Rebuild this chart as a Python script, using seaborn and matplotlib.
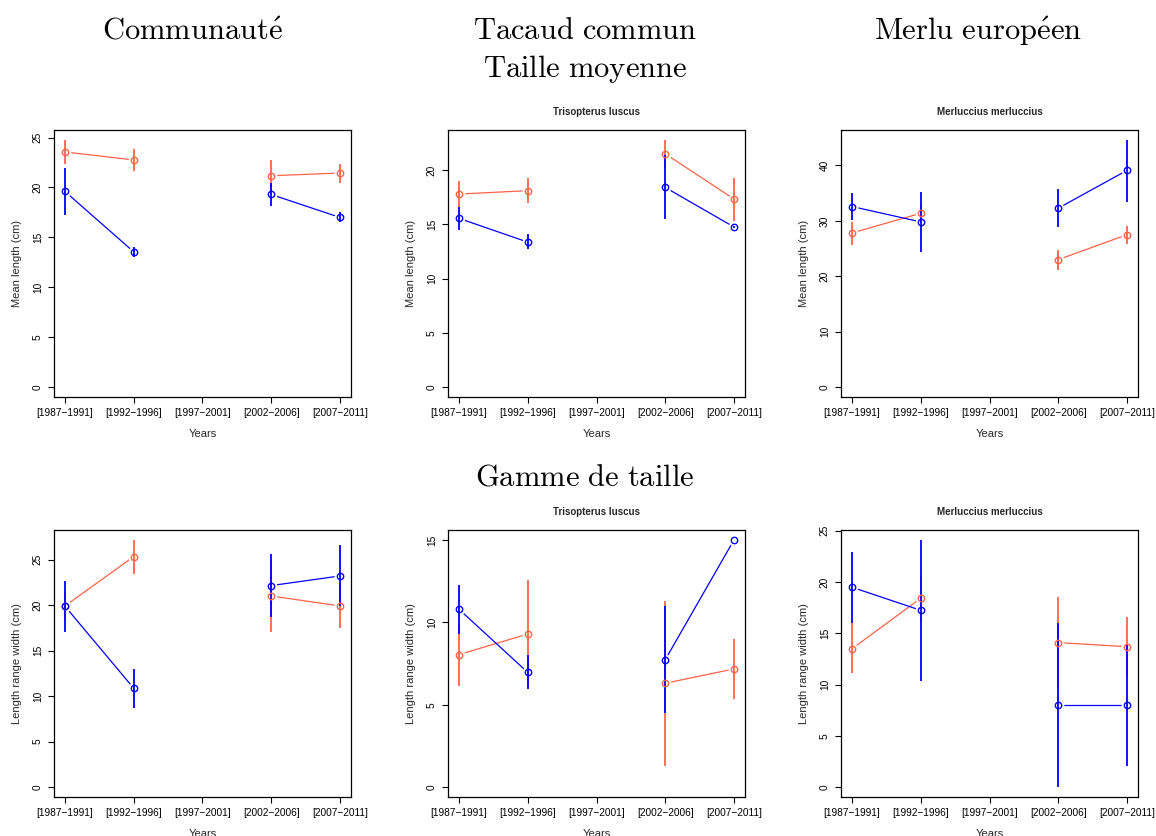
import os
import numpy as np
import pandas as pd
import matplotlib
matplotlib.use("Agg")
import matplotlib.pyplot as plt
from matplotlib import font_manager as fm
import seaborn as sns

nan = np.nan

periods = ["[1987\u22121991]", "[1992\u22121996]", "[1997\u22122001]",
           "[2002\u22122006]", "[2007\u22122011]"]

# ---- Mean length (cm) ----
# Community
comm_mean_a = [23.56, 22.76, nan, 21.18, 21.45]
comm_lo_a = [22.32, 21.69, nan, 19.55, 20.50]
comm_hi_a = [24.77, 23.83, nan, 22.80, 22.40]
comm_mean_b = [19.60, 13.55, nan, 19.30, 17.00]
comm_lo_b = [17.20, 13.00, nan, 18.10, 16.50]
comm_hi_b = [22.00, 14.05, nan, 20.50, 17.50]

# Trisopterus luscus
tris_mean_a = [17.79, 18.10, nan, 21.50, 17.33]
tris_lo_a = [16.60, 16.93, nan, 20.20, 15.33]
tris_hi_a = [19.00, 19.23, nan, 22.78, 19.30]
tris_mean_b = [15.55, 13.36, nan, 18.40, 14.75]
tris_lo_b = [14.47, 12.70, nan, 15.48, 14.65]
tris_hi_b = [16.60, 14.10, nan, 21.40, 14.85]

# Merluccius merluccius
merl_mean_a = [27.80, 31.37, nan, 23.00, 27.50]
merl_lo_a = [25.70, 29.80, nan, 21.20, 25.80]
merl_hi_a = [29.80, 32.90, nan, 24.80, 29.10]
merl_mean_b = [32.58, 29.80, nan, 32.28, 39.10]
merl_lo_b = [30.23, 24.43, nan, 28.84, 33.36]
merl_hi_b = [34.93, 35.17, nan, 35.66, 44.60]

# ---- Length range width (cm) ----
# Community
comm_rng_a = [19.90, 25.33, nan, 21.00, 19.90]
comm_rng_lo_a = [18.40, 23.42, nan, 17.00, 17.52]
comm_rng_hi_a = [21.40, 27.16, nan, 25.00, 22.30]
comm_rng_b = [19.87, 10.85, nan, 22.14, 23.20]
comm_rng_lo_b = [17.00, 8.72, nan, 18.73, 19.90]
comm_rng_hi_b = [22.65, 12.98, nan, 25.62, 26.58]

# Trisopterus luscus
tris_rng_a = [8.04, 9.29, nan, 6.30, 7.17]
tris_rng_lo_a = [6.13, 6.00, nan, 1.28, 5.32]
tris_rng_hi_a = [9.95, 12.57, nan, 11.32, 9.00]
tris_rng_b = [10.79, 6.96, nan, 7.73, 15.00]
tris_rng_lo_b = [9.29, 5.93, nan, 4.47, 15.00]
tris_rng_hi_b = [12.27, 8.02, nan, 11.00, 15.00]

# Merluccius merluccius
merl_rng_a = [13.50, 18.42, nan, 14.10, 13.70]
merl_rng_lo_a = [11.17, 16.10, nan, 9.70, 10.77]
merl_rng_hi_a = [15.98, 20.70, nan, 18.52, 16.63]
merl_rng_b = [19.50, 17.25, nan, 8.00, 8.00]
merl_rng_lo_b = [16.05, 10.38, nan, 0.00, 2.08]
merl_rng_hi_b = [22.98, 24.12, nan, 16.05, 13.90]

color_a = "#FF6347"
color_b = "#0000FF"

sns.set_style("ticks")
plt.rcParams["font.family"] = ["Liberation Sans", "DejaVu Sans"]
plt.rcParams["mathtext.fontset"] = "cm"


def font_file(basename):
    for f in fm.findSystemFonts():
        if os.path.basename(f) == basename:
            return f
    return None


regular_path = font_file("LiberationSans-Regular.ttf")
bold_path = font_file("LiberationSans-Bold.ttf")


def sans(size, bold=False):
    path = bold_path if bold else regular_path
    if path:
        return fm.FontProperties(fname=path, size=size)
    return fm.FontProperties(family="Liberation Sans", size=size,
                             weight="bold" if bold else "normal")


def make_frame(mean, lo, hi):
    df = pd.DataFrame({"pos": np.arange(1, len(periods) + 1),
                       "mean": mean, "lo": lo, "hi": hi})
    # consecutive non-missing periods form one connected segment
    df["segment"] = df["mean"].isna().cumsum()
    return df


def draw_series(ax, df, color):
    valid = df.dropna(subset=["mean"])
    sns.lineplot(data=valid, x="pos", y="mean", units="segment",
                 estimator=None, color=color, lw=0.9, ax=ax,
                 legend=False, zorder=2)
    # small gap in the line around each point
    ax.plot(valid["pos"], valid["mean"], "o", ms=8.5, mfc="white",
            mec="none", zorder=2.5)
    ax.vlines(valid["pos"], valid["lo"], valid["hi"], color=color,
              lw=1.3, zorder=3)
    ax.plot(valid["pos"], valid["mean"], "o", ms=4.6, mfc="none",
            mec=color, mew=1.0, zorder=4)


def draw_panel(ax, a, b, ylabel, yticks, subtitle=None):
    dfa = make_frame(*a)
    dfb = make_frame(*b)
    draw_series(ax, dfa, color_a)
    draw_series(ax, dfb, color_b)
    top = np.nanmax(np.concatenate([dfa["hi"].values, dfb["hi"].values]))
    ax.set_ylim(-0.04 * top, 1.04 * top)
    ax.set_xlim(0.84, 5.16)
    ax.set_xticks(range(1, len(periods) + 1))
    ax.set_xticklabels(periods, fontproperties=sans(7.3))
    ax.set_yticks(yticks)
    ax.set_yticklabels([str(t) for t in yticks], fontproperties=sans(7.3),
                       rotation=90, va="center")
    ax.set_xlabel("Years", fontproperties=sans(8), labelpad=8)
    ax.set_ylabel(ylabel, fontproperties=sans(8), labelpad=8)
    ax.tick_params(direction="out", length=4, width=0.8, pad=4,
                   colors="black")
    for sp in ax.spines.values():
        sp.set_visible(True)
        sp.set_linewidth(0.9)
        sp.set_color("black")
    if subtitle:
        ax.set_title(subtitle, fontproperties=sans(7, bold=True), pad=11)


fig = plt.figure(figsize=(11.56, 8.36), dpi=100)
lefts = [54 / 1156, 448 / 1156, 841 / 1156]
w = 297 / 1156
h = 267 / 836
bottoms = [1 - 397 / 836, 1 - 797 / 836]

axes = [[fig.add_axes([l, b, w, h]) for l in lefts] for b in bottoms]

draw_panel(axes[0][0], (comm_mean_a, comm_lo_a, comm_hi_a),
           (comm_mean_b, comm_lo_b, comm_hi_b),
           "Mean length (cm)", [0, 5, 10, 15, 20, 25])
draw_panel(axes[0][1], (tris_mean_a, tris_lo_a, tris_hi_a),
           (tris_mean_b, tris_lo_b, tris_hi_b),
           "Mean length (cm)", [0, 5, 10, 15, 20], "Trisopterus luscus")
draw_panel(axes[0][2], (merl_mean_a, merl_lo_a, merl_hi_a),
           (merl_mean_b, merl_lo_b, merl_hi_b),
           "Mean length (cm)", [0, 10, 20, 30, 40], "Merluccius merluccius")
draw_panel(axes[1][0], (comm_rng_a, comm_rng_lo_a, comm_rng_hi_a),
           (comm_rng_b, comm_rng_lo_b, comm_rng_hi_b),
           "Length range width (cm)", [0, 5, 10, 15, 20, 25])
draw_panel(axes[1][1], (tris_rng_a, tris_rng_lo_a, tris_rng_hi_a),
           (tris_rng_b, tris_rng_lo_b, tris_rng_hi_b),
           "Length range width (cm)", [0, 5, 10, 15], "Trisopterus luscus")
draw_panel(axes[1][2], (merl_rng_a, merl_rng_lo_a, merl_rng_hi_a),
           (merl_rng_b, merl_rng_lo_b, merl_rng_hi_b),
           "Length range width (cm)", [0, 5, 10, 15, 20, 25],
           "Merluccius merluccius")

title_kw = dict(fontsize=22, ha="center", va="center", color="black")
fig.text(193 / 1156, 1 - 32 / 836, r"$\mathrm{Communaut\acute{e}}$", **title_kw)
fig.text(585 / 1156, 1 - 31 / 836, r"$\mathrm{Tacaud\ commun}$", **title_kw)
fig.text(978 / 1156, 1 - 31 / 836, r"$\mathrm{Merlu\ europ\acute{e}en}$", **title_kw)
fig.text(585 / 1156, 1 - 69 / 836, r"$\mathrm{Taille\ moyenne}$", **title_kw)
fig.text(585 / 1156, 1 - 477 / 836, r"$\mathrm{Gamme\ de\ taille}$", **title_kw)

fig.savefig("out.png", dpi=100, facecolor="white")
